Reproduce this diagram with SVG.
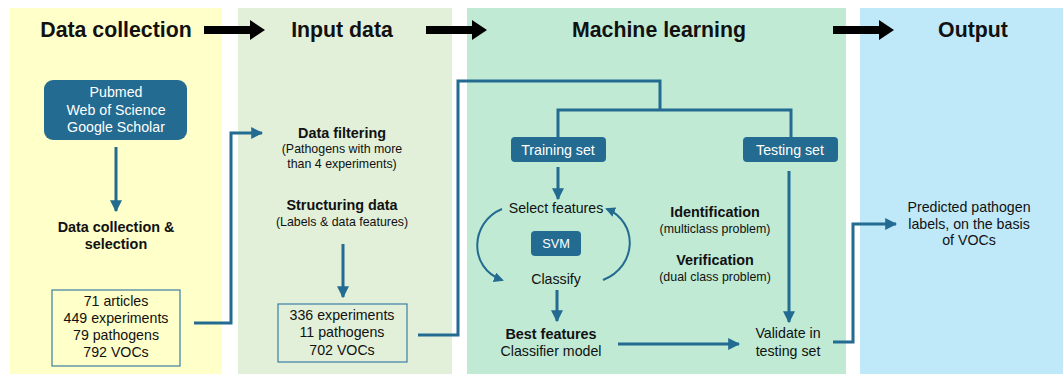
<svg xmlns="http://www.w3.org/2000/svg" width="1063" height="374" viewBox="0 0 1063 374">
<defs>
<style>
text{font-family:"Liberation Sans",Arial,sans-serif;fill:#111;text-anchor:middle}
.title{font-size:21.3px;font-weight:bold}
.b{font-size:14.4px;font-weight:bold}
.n{font-size:14.2px}
.s{font-size:12.4px}
.w{fill:#fff}
.node{fill:#236B90}
.box{fill:none;stroke:#3C7EA3;stroke-width:1.2}
.con{fill:none;stroke:#236B90;stroke-width:3}
.big{fill:#000}
</style>
<marker id="ah" viewBox="0 0 10 10" refX="9" refY="5" markerWidth="4" markerHeight="4" orient="auto" markerUnits="strokeWidth">
<path d="M0,0 L10,5 L0,10 Z" fill="#236B90"/>
</marker>
<marker id="ahs" viewBox="0 0 10 10" refX="8" refY="5" markerWidth="5" markerHeight="5" orient="auto" markerUnits="strokeWidth">
<path d="M0,0 L10,5 L0,10 Z" fill="#236B90"/>
</marker>
</defs>
<rect width="1063" height="374" fill="#fff"/>
<g id="panels">
<rect x="10" y="8" width="212" height="366" fill="#FFFFC9"/>
<rect x="238" y="8" width="214" height="366" fill="#E2F0D9"/>
<rect x="467" y="8" width="379" height="366" fill="#C0EAD4"/>
<rect x="860" y="8" width="203" height="366" fill="#BFE9F9"/>
</g>
<g id="titles">
<text class="title" x="116" y="37">Data collection</text>
<text class="title" x="342" y="37">Input data</text>
<text class="title" x="659" y="37">Machine learning</text>
<text class="title" x="973" y="37">Output</text>
</g>
<g id="stage-arrows">
<path class="big" d="M204,26 H250 V20 L265,30 L250,40 V34 H204 Z"/>
<path class="big" d="M426,26 H472 V20 L487,30 L472,40 V34 H426 Z"/>
<path class="big" d="M833,26 H879 V20 L894,30 L879,40 V34 H833 Z"/>
</g>
<g id="connectors">
<path class="con" d="M116,147 V211" marker-end="url(#ah)"/>
<path class="con" d="M194,323 H231 V133 H262" marker-end="url(#ah)"/>
<path class="con" d="M343,244 V297" marker-end="url(#ah)"/>
<path class="con" d="M418,335 H458 V81 H660 V110"/>
<path class="con" d="M558,137 V110 H791 V137"/>
<path class="con" d="M558,167 V199" marker-end="url(#ah)"/>
<path class="con" d="M557,290 V321" marker-end="url(#ah)"/>
<path class="con" d="M618,344 H739" marker-end="url(#ah)"/>
<path class="con" d="M789,171 V322" marker-end="url(#ah)"/>
<path class="con" d="M833,342 H853 V224 H896" marker-end="url(#ah)"/>
<path fill="none" stroke="#236B90" stroke-width="2" d="M502,209 C470,222 468,268 502,280" marker-end="url(#ahs)"/>
<path fill="none" stroke="#236B90" stroke-width="2" d="M603,280 C638,266 638,222 607,209" marker-end="url(#ahs)"/>
</g>
<g id="sources">
<rect class="node" x="44" y="80" width="143" height="60" rx="9"/>
<text class="n w" x="116" y="97">Pubmed</text>
<text class="n w" x="116" y="115">Web of Science</text>
<text class="n w" x="116" y="132">Google Scholar</text>
</g>
<g id="collection">
<text class="b" x="116" y="232">Data collection &amp;</text>
<text class="b" x="116" y="249">selection</text>
</g>
<g id="counts1">
<rect class="box" x="52" y="290" width="128" height="76"/>
<text class="n" x="116" y="306">71 articles</text>
<text class="n" x="116" y="323">449 experiments</text>
<text class="n" x="116" y="340">79 pathogens</text>
<text class="n" x="116" y="357">792 VOCs</text>
</g>
<g id="filtering">
<text class="b" x="342" y="138">Data filtering</text>
<text class="s" x="342" y="153">(Pathogens with more</text>
<text class="s" x="342" y="168">than 4 experiments)</text>
</g>
<g id="structuring">
<text class="b" x="342" y="210">Structuring data</text>
<text class="s" x="342" y="226">(Labels &amp; data features)</text>
</g>
<g id="counts2">
<rect class="box" x="278" y="304" width="129" height="58"/>
<text class="n" x="342" y="320">336 experiments</text>
<text class="n" x="342" y="337">11 pathogens</text>
<text class="n" x="342" y="355">702 VOCs</text>
</g>
<g id="training">
<rect class="node" x="511" y="137" width="95" height="25" rx="4"/>
<text class="n w" x="558" y="155">Training set</text>
</g>
<g id="testing">
<rect class="node" x="743" y="137" width="95" height="25" rx="4"/>
<text class="n w" x="790" y="155">Testing set</text>
</g>
<g id="select">
<text class="n" x="556" y="213">Select features</text>
</g>
<g id="svm">
<rect class="node" x="531" y="231" width="50" height="25" rx="4"/>
<text class="w" style="font-size:12.8px" x="556" y="248">SVM</text>
</g>
<g id="classify">
<text class="n" x="556" y="284">Classify</text>
</g>
<g id="best">
<text class="b" x="551" y="339">Best features</text>
<text class="n" x="551" y="356">Classifier model</text>
</g>
<g id="tasks">
<text class="b" x="715" y="217">Identification</text>
<text class="s" x="715" y="233">(multiclass problem)</text>
<text class="b" x="715" y="265">Verification</text>
<text class="s" x="715" y="281">(dual class problem)</text>
</g>
<g id="validate">
<text class="n" x="788" y="338">Validate in</text>
<text class="n" x="788" y="356">testing set</text>
</g>
<g id="output">
<text class="n" x="969" y="212">Predicted pathogen</text>
<text class="n" x="969" y="229">labels, on the basis</text>
<text class="n" x="969" y="245">of VOCs</text>
</g>
</svg>
